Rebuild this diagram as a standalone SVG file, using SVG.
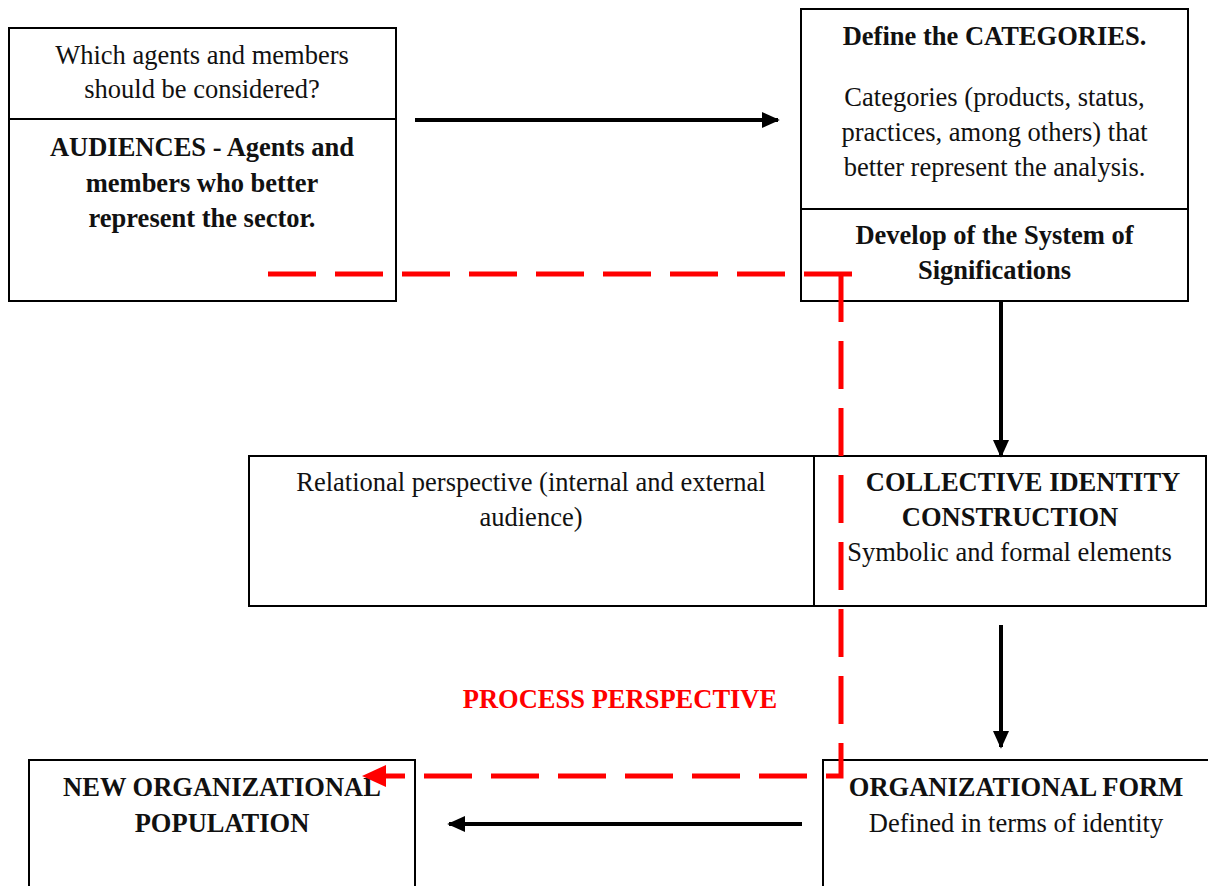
<svg xmlns="http://www.w3.org/2000/svg" width="1208" height="886" viewBox="0 0 1208 886">
  <style>
    .box { fill: #fff; stroke: #000; stroke-width: 2; }
    .div { stroke: #000; stroke-width: 2; }
    text { font-family: 'Liberation Serif', 'Times New Roman', serif; font-size: 26.5px; fill: #111; text-anchor: middle; }
    .b { font-weight: bold; }
    .arrow { stroke: #000; stroke-width: 4; fill: none; marker-end: url(#ah); }
    .dash { stroke: #f00; stroke-width: 5; fill: none; stroke-dasharray: 48 19; }
    .red { fill: #f00; }
  </style>
  <defs>
    <marker id="ah" viewBox="0 0 10 10" refX="9" refY="5" markerWidth="4.5" markerHeight="4.5" orient="auto" markerUnits="strokeWidth">
      <path d="M0,0.5 L10,5 L0,9.5 z" fill="#000"/>
    </marker>
  </defs>

  <!-- audiences box -->
  <g id="audiences">
    <rect class="box" x="9" y="28" width="387" height="273"/>
    <line class="div" x1="9" y1="119" x2="396" y2="119"/>
    <text x="202" y="64">Which agents and members</text>
    <text x="202" y="98">should be considered?</text>
    <text class="b" x="202" y="156">AUDIENCES - Agents and</text>
    <text class="b" x="202" y="192">members who better</text>
    <text class="b" x="202" y="227">represent the sector.</text>
  </g>

  <!-- categories box -->
  <g id="categories">
    <rect class="box" x="801" y="9" width="387" height="292"/>
    <line class="div" x1="801" y1="209" x2="1188" y2="209"/>
    <text class="b" x="994.5" y="45">Define the CATEGORIES.</text>
    <text x="994.5" y="106">Categories (products, status,</text>
    <text x="994.5" y="141">practices, among others) that</text>
    <text x="994.5" y="176">better represent the analysis.</text>
    <text class="b" x="994.5" y="244">Develop of the System of</text>
    <text class="b" x="994.5" y="279">Significations</text>
  </g>

  <!-- relational / collective identity box -->
  <g id="collective-identity">
    <rect class="box" x="249" y="456" width="957" height="150"/>
    <line class="div" x1="814" y1="456" x2="814" y2="606"/>
    <text x="531" y="491">Relational perspective (internal and external</text>
    <text x="531" y="526">audience)</text>
    <text class="b" x="1023" y="491">COLLECTIVE IDENTITY</text>
    <text class="b" x="1010" y="526">CONSTRUCTION</text>
    <text x="1009.5" y="561">Symbolic and formal elements</text>
  </g>

  <!-- new organizational population -->
  <g id="new-population">
    <rect class="box" x="29" y="760" width="386" height="140"/>
    <text class="b" x="222" y="796">NEW ORGANIZATIONAL</text>
    <text class="b" x="222" y="832">POPULATION</text>
  </g>

  <!-- organizational form -->
  <g id="org-form">
    <rect class="box" x="823" y="760" width="400" height="140"/>
    <text class="b" x="1016" y="796">ORGANIZATIONAL FORM</text>
    <text x="1016" y="832">Defined in terms of identity</text>
  </g>

  <text class="b red" x="620" y="708">PROCESS PERSPECTIVE</text>

  <!-- connectors -->
  <g id="connectors">
    <line class="arrow" x1="415" y1="120" x2="778" y2="120"/>
    <line class="arrow" x1="1001" y1="301" x2="1001" y2="456"/>
    <line class="arrow" x1="1001" y1="625" x2="1001" y2="747"/>
    <line class="arrow" x1="802" y1="824" x2="449" y2="824"/>
    <polyline class="dash" points="268,274 852,274"/>
    <polyline class="dash" points="841,274 841,776 385,776"/>
    <path class="red" d="M362,776 L386,765 L386,787 z"/>
  </g>
</svg>
